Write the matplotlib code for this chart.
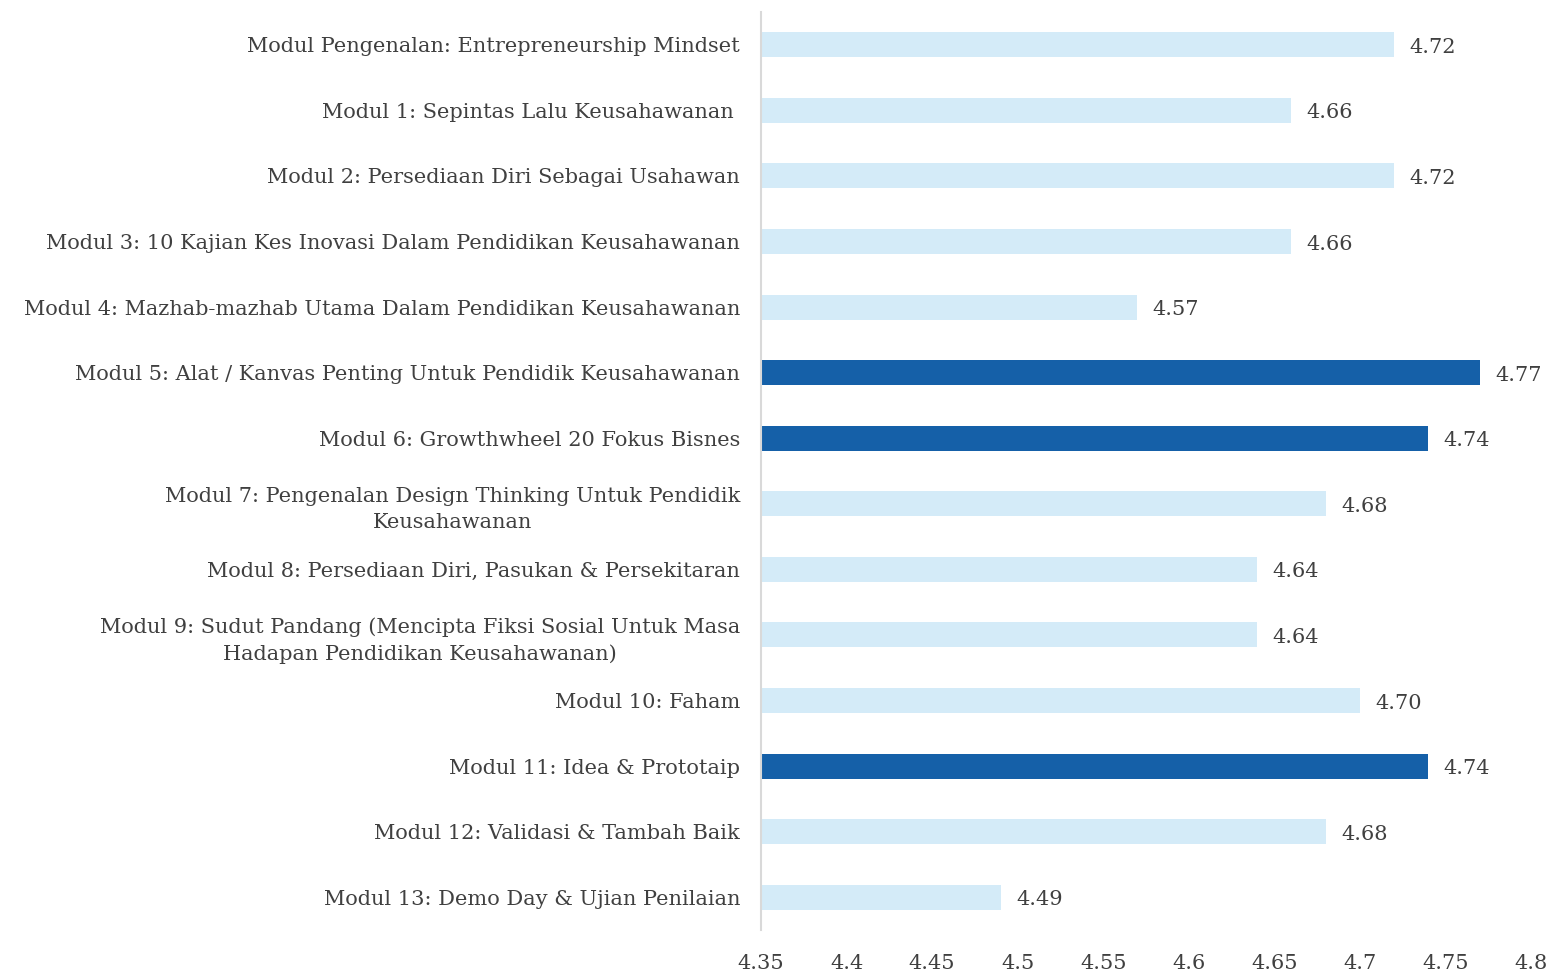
import matplotlib
matplotlib.use("Agg")
from matplotlib import pyplot as plt

modules = [
    "Modul Pengenalan: Entrepreneurship Mindset",
    "Modul 1: Sepintas Lalu Keusahawanan ",
    "Modul 2: Persediaan Diri Sebagai Usahawan",
    "Modul 3: 10 Kajian Kes Inovasi Dalam Pendidikan Keusahawanan",
    "Modul 4: Mazhab-mazhab Utama Dalam Pendidikan Keusahawanan",
    "Modul 5: Alat / Kanvas Penting Untuk Pendidik Keusahawanan",
    "Modul 6: Growthwheel 20 Fokus Bisnes",
    "Modul 7: Pengenalan Design Thinking Untuk Pendidik\nKeusahawanan",
    "Modul 8: Persediaan Diri, Pasukan & Persekitaran",
    "Modul 9: Sudut Pandang (Mencipta Fiksi Sosial Untuk Masa\nHadapan Pendidikan Keusahawanan)",
    "Modul 10: Faham",
    "Modul 11: Idea & Prototaip",
    "Modul 12: Validasi & Tambah Baik",
    "Modul 13: Demo Day & Ujian Penilaian",
]
scores = [4.72, 4.66, 4.72, 4.66, 4.57, 4.77, 4.74, 4.68, 4.64, 4.64,
          4.70, 4.74, 4.68, 4.49]
x_ticks = [4.35, 4.4, 4.45, 4.5, 4.55, 4.6, 4.65, 4.7, 4.75, 4.8]
x_labels = ["4.35", "4.4", "4.45", "4.5", "4.55", "4.6", "4.65", "4.7", "4.75", "4.8"]

LIGHT = "#d4ebf8"
DARK = "#1560a8"
TEXT = "#404040"

plt.rcParams["font.family"] = ["DejaVu Serif"]

fig = plt.figure(figsize=(15.52, 9.74), dpi=100)
ax = fig.add_axes([0.4903, 0.0452, 0.4962, 0.9425])

base = 4.35
colors = [DARK if s >= 4.74 else LIGHT for s in scores]
ypos = list(range(len(modules)))
ax.barh(ypos, [s - base for s in scores], left=base, height=0.38,
        color=colors)

for y, s in zip(ypos, scores):
    ax.text(s + 0.009, y + 0.04, f"{s:.2f}", va="center", ha="left",
            fontsize=15, color=TEXT)

ax.set_xlim(4.35, 4.8)
ax.set_ylim(len(modules) - 0.5, -0.5)
ax.set_yticks(ypos)
ax.set_yticklabels(modules, fontsize=15, color=TEXT, linespacing=1.45)
for lbl in ax.get_yticklabels():
    lbl.set_multialignment("center")
ax.set_xticks(x_ticks)
ax.set_xticklabels(x_labels, fontsize=15, color=TEXT)
ax.tick_params(axis="both", length=0)
ax.tick_params(axis="y", pad=15)
ax.tick_params(axis="x", pad=17)

for side in ["top", "right", "bottom"]:
    ax.spines[side].set_visible(False)
ax.spines["left"].set_color("#d9d9d9")
ax.spines["left"].set_linewidth(1.5)

fig.savefig("out.png", dpi=100)
